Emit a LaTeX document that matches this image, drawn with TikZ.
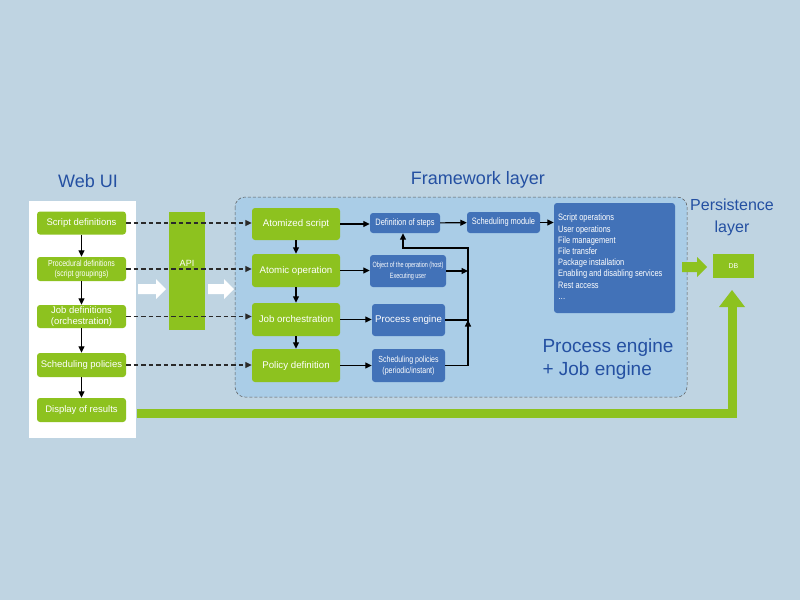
\documentclass[tikz,border=0pt]{standalone}
\usepackage{fontspec}
\setmainfont{Liberation Sans}
\newfontfamily\narrowfont[FakeStretch=0.8]{Liberation Sans}
\newfontfamily\vnarrowfont[FakeStretch=0.72]{Liberation Sans}
\usetikzlibrary{arrows.meta}
\definecolor{bgc}{HTML}{BFD4E2}
\definecolor{fwc}{HTML}{AACDE7}
\definecolor{grn}{HTML}{8DC21F}
\definecolor{blu}{HTML}{4272B8}
\definecolor{ttl}{HTML}{2450A2}
\definecolor{dsh}{HTML}{2A2A2A}
\tikzset{
  gbox/.style={fill=grn, rounded corners=3pt, text=white, align=center, inner sep=0pt, font=\fontsize{9.5}{10.5}\selectfont},
  bbox/.style={fill=blu, rounded corners=3pt, text=white, align=center, inner sep=0pt, font=\narrowfont\fontsize{9.3}{10}\selectfont},
  arr/.style={-{Triangle[length=6.5pt,width=6pt]}, line width=1.1pt, black},
  darr/.style={-{Triangle[length=6.5pt,width=6pt]}, line width=1.1pt, dsh, dash pattern=on 4.5pt off 3pt},
  title/.style={text=ttl, font=\fontsize{18}{20}\selectfont},
}
\begin{document}
\begin{tikzpicture}[x=1pt,y=-1pt]
\fill[bgc] (0,0) rectangle (800,600);
\useasboundingbox (0,0) rectangle (800,600);
% framework box
\draw[fill=fwc, draw=gray!70!black, dash pattern=on 3pt off 2pt, line width=0.5pt, rounded corners=10pt] (235,197) rectangle (687,397);
% white panel
\fill[white] (29,201) rectangle (136,438);
% titles
\node[title] (twebui) at (88,181) {Web UI};
\node[title] (tfw) at (478,180) {Framework layer};
\node[text=ttl, font=\fontsize{16}{22}\selectfont, align=center] (tper) at (732,217) {Persistence\\layer};
\node[text=ttl, font=\fontsize{19}{23}\selectfont, align=left, anchor=west] (tpe) at (539,359) {Process engine\\+ Job engine};
% Web UI nodes
\node[gbox, minimum width=89pt, minimum height=23pt] (s1) at (81.5,223) {Script definitions};
\node[gbox, minimum width=89pt, minimum height=24pt, font=\narrowfont\fontsize{8.7}{10}\selectfont] (s2) at (81.5,269) {Procedural definitions\\(script groupings)};
\node[gbox, minimum width=89pt, minimum height=23pt, font=\fontsize{9.5}{10.5}\selectfont] (s3) at (81.5,316.5) {Job definitions\\(orchestration)};
\node[gbox, minimum width=89pt, minimum height=24pt] (s4) at (81.5,365) {Scheduling policies};
\node[gbox, minimum width=89pt, minimum height=24pt] (s5) at (81.5,410) {Display of results};
\draw[arr] (s1) -- (s2);
\draw[arr] (s2) -- (s3);
\draw[arr] (s3) -- (s4);
\draw[arr] (s4) -- (s5);
% API
\node[fill=grn, minimum width=36pt, minimum height=118pt, inner sep=0pt] (api) at (187,271) {};
\node[text=white, font=\fontsize{9}{10}\selectfont] (apil) at (187,263) {API};
% white block arrows
\fill[white] (138,284) -- (156,284) -- (156,279) -- (166,289) -- (156,299) -- (156,294) -- (138,294) -- cycle;
\fill[white] (208,284) -- (224,284) -- (224,279) -- (234,289) -- (224,299) -- (224,294) -- (208,294) -- cycle;
% framework green nodes
\node[gbox, minimum width=88pt, minimum height=32pt, font=\fontsize{9.7}{11}\selectfont] (f1) at (296,224) {Atomized script};
\node[gbox, minimum width=88pt, minimum height=33pt, font=\fontsize{9.7}{11}\selectfont] (f2) at (296,270.5) {Atomic operation};
\node[gbox, minimum width=88pt, minimum height=33pt, font=\fontsize{9.7}{11}\selectfont] (f3) at (296,319.5) {Job orchestration};
\node[gbox, minimum width=88pt, minimum height=33pt, font=\fontsize{9.7}{11}\selectfont] (f4) at (296,365.5) {Policy definition};
\draw[arr] (f1) -- (f2);
\draw[arr] (f2) -- (f3);
\draw[arr] (f3) -- (f4);
% blue nodes
\node[bbox, minimum width=70pt, minimum height=20pt] (b1) at (405,223) {Definition of steps};
\node[bbox, minimum width=76pt, minimum height=32pt, font=\vnarrowfont\fontsize{7.6}{11}\selectfont] (b2) at (408,271) {Object of the operation (host)\\Executing user};
\node[bbox, minimum width=73pt, minimum height=32pt, font=\fontsize{9.7}{11}\selectfont] (b3) at (408.5,320) {Process engine};
\node[bbox, minimum width=73pt, minimum height=33pt, font=\narrowfont\fontsize{8.8}{11}\selectfont] (b4) at (408.5,365.5) {Scheduling policies\\(periodic/instant)};
\node[bbox, minimum width=73pt, minimum height=21pt] (b5) at (503.5,222.5) {Scheduling module};
\node[bbox, minimum width=121pt, minimum height=110pt] (lst) at (614.5,258) {};
\node[anchor=north west, text=white, align=left, inner sep=0pt, font=\narrowfont\fontsize{9.3}{11.2}\selectfont] (lstt) at (558,214) {Script operations\\User operations\\File management\\File transfer\\Package installation\\Enabling and disabling services\\Rest access\\\dots};
% arrows in framework
\draw[arr] (f1.east) -- (f1.east -| b1.west);
\draw[arr] (f2.east) -- (f2.east -| b2.west);
\draw[arr] (f3.east) -- (f3.east -| b3.west);
\draw[arr] (f4.east) -- (f4.east -| b4.west);
\draw[arr] (b1) -- (b5);
\draw[arr] (b5.east) -- (b5.east -| lst.west);
\coordinate (jx) at (468,248);
\draw[arr] (b4.east) -| (jx) -| ([xshift=-2pt]b1.south);
\draw[arr] (b4.east -| jx) -- (b3.east -| jx);
\draw[line width=1.1pt] (b3.east) -- (b3.east -| jx);
\draw[arr] (b2.east) -- (b2.east -| jx);
% dashed connections
\draw[darr] (s1.east) -- (s1.east -| f1.west);
\draw[darr] (s2.east) -- (s2.east -| f2.west);
\draw[darr] (s3.east) -- (s3.east -| f3.west);
\draw[darr] (s4.east) -- (s4.east -| f4.west);
% DB
\node[fill=grn, minimum width=41pt, minimum height=24pt, inner sep=0pt, text=white, font=\fontsize{7}{8}\selectfont] (db) at (733.5,266) {DB};
% green arrow to DB
\fill[grn] (682,262) -- (697,262) -- (697,257) -- (707,267) -- (697,277) -- (697,272) -- (682,272) -- cycle;
% big green return arrow
\coordinate (gstart) at (137,413.5);
\coordinate (gcorner) at (732,413.5);
\coordinate (ghead) at (732,306);
\draw[grn, line width=9pt] (gstart) -- (gcorner) -- (ghead);
\fill[grn] (719,307) -- (745,307) -- (732,290) -- cycle;
\end{tikzpicture}
\end{document}
